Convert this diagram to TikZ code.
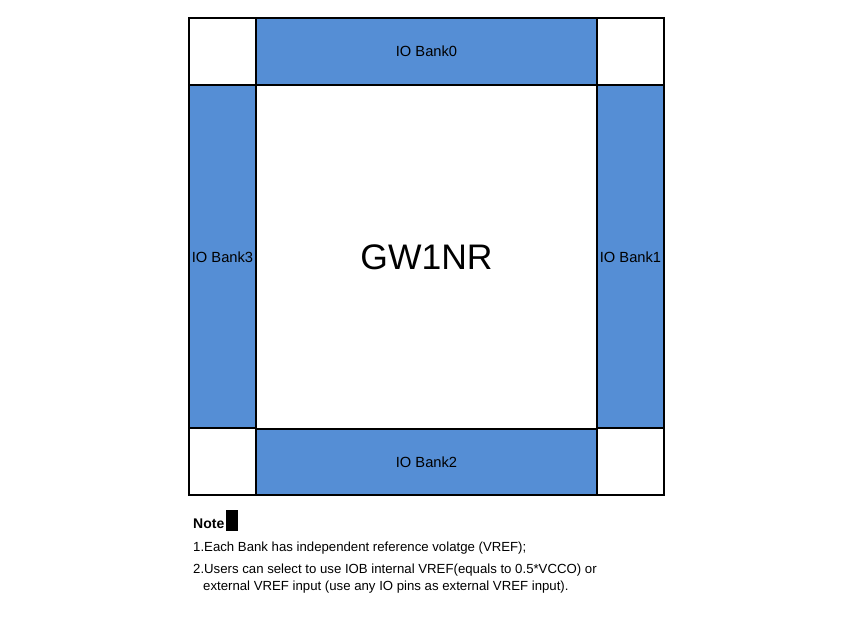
\documentclass[tikz,border=0pt]{standalone}
\usepackage{fontspec}
\setmainfont{Liberation Sans}
\definecolor{bankblue}{HTML}{558ED5}
\tikzset{
	cell/.style={draw=black, line width=2pt, inner sep=0pt},
	bankbox/.style={cell, fill=bankblue, font=\fontsize{14.7}{16}\selectfont},
	cornerbox/.style={cell, fill=white, minimum width=67pt, minimum height=67pt},
	notetext/.style={anchor=base west, inner sep=0pt, font=\fontsize{13.2}{15}\selectfont}
}
\begin{document}
\begin{tikzpicture}[x=1pt, y=-1pt]
	\useasboundingbox (0,0) rectangle (860,617);
	% core
	\node[cell, fill=white, minimum width=341pt, minimum height=344pt,
	font=\fontsize{35.5}{38}\selectfont] (core) at (426.5,257) {GW1NR};
	% banks
	\node[bankbox, minimum width=341pt, minimum height=67pt] (bank0) at (426.5,51.5) {IO Bank0};
	\node[bankbox, minimum width=341pt, minimum height=66pt] (bank2) at (426.5,462) {IO Bank2};
	\node[bankbox, minimum width=67pt, minimum height=344pt] (bank3) at (222.5,257) {IO Bank3};
	\node[bankbox, minimum width=67pt, minimum height=344pt] (bank1) at (630.5,257) {IO Bank1};
	% corners
	\foreach \cx/\cy/\nm in {222.5/51.5/nw, 630.5/51.5/ne, 222.5/462/sw, 630.5/462/se}
	\node[cornerbox] (corner\nm) at (\cx,\cy) {};
	% note
	\node[notetext, font=\bfseries\fontsize{14}{15}\selectfont] (note) at (193,529) {Note};
	\fill[black] (note.base east) ++(1,-19) rectangle ++(12,21);
	\node[notetext] (line1) at (193,551) {1.Each Bank has independent reference volatge (VREF);};
	\node[notetext] (line2) at (193,573) {2.Users can select to use IOB internal VREF(equals to 0.5*VCCO) or};
	\node[notetext] (line3) at (203,590) {external VREF input (use any IO pins as external VREF input).};
\end{tikzpicture}
\end{document}
